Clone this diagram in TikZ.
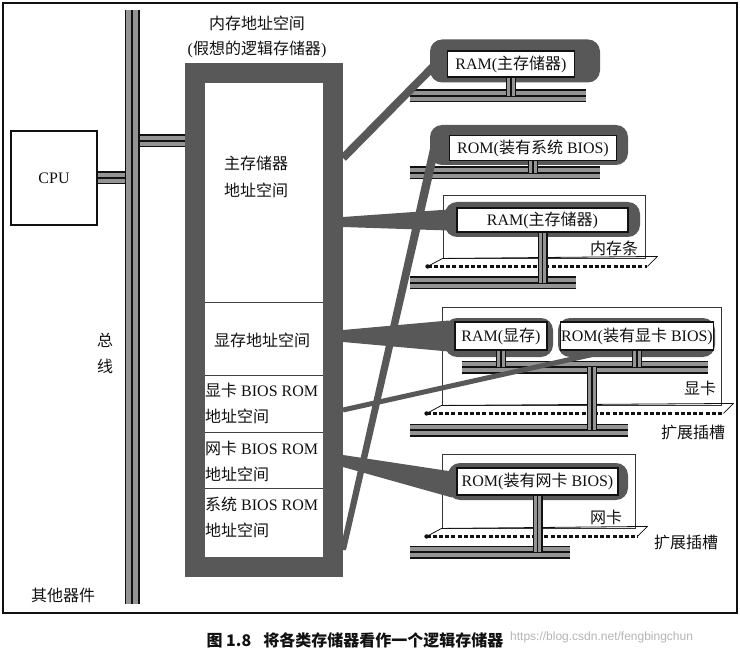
\documentclass[tikz,border=0pt]{standalone}
\usepackage{fontspec}
\setmainfont{Liberation Serif}
\newfontfamily\cjk{Noto Sans CJK SC}
\newfontfamily\wmfont{Liberation Sans}
\newcommand\zh[1]{{\cjk #1}}
\usetikzlibrary{calc}
\definecolor{mm-ink}{HTML}{111111}
\definecolor{mm-frame}{HTML}{585858}
\definecolor{mm-lane}{HTML}{949494}
\definecolor{mm-mark}{HTML}{B4B4B4}

\begin{document}
\begin{tikzpicture}[
  x=1pt,y=-1pt,font=\fontsize{16}{26}\selectfont,text=mm-ink,
  mainbus/.style={draw=mm-ink,line width=15pt,
                  postaction={draw=mm-lane,line width=12pt},
                  postaction={draw=mm-ink,line width=1.4pt}},
  bus/.style={draw=mm-ink,line width=13pt,
              postaction={draw=mm-lane,line width=10pt},
              postaction={draw=mm-ink,line width=1.3pt}},
  stem/.style={draw=mm-ink,line width=10pt,
               postaction={draw=mm-lane,line width=7.4pt},
               postaction={draw=mm-ink,line width=1.2pt}},
  memblk/.style={draw=mm-frame,line width=20pt,fill=white,inner sep=0pt,
                 minimum width=138,minimum height=494},
  sec/.style={anchor=west,align=left,inner sep=1pt},
  card/.style={draw=mm-ink!85,line width=0.9pt,inner sep=0pt},
  blob/.style={fill=mm-frame,rounded corners=12pt,inner sep=0pt},
  chip/.style={draw=mm-ink,line width=1.5pt,fill=white,inner sep=1.5pt,
               minimum height=26},
  link/.style={fill=mm-frame},
  linkline/.style={draw=mm-frame,line width=6pt},
  slotedge/.style={draw=mm-ink,line width=0.8pt,line join=round},
  slotdash/.style={draw=mm-ink,line width=2.6pt,dash pattern=on 4pt off 2.2pt}
]
\useasboundingbox (0,0) rectangle (740,658);

% outer frame
\draw[mm-ink,line width=1.8pt] (3,3) rectangle (737,613);

% system bus and CPU
\coordinate (bustop) at (132,10);
\coordinate (busbot) at (132,604);
\node[draw=mm-ink,line width=1.2pt,minimum width=86,minimum height=94] (cpu) at (54,178) {CPU};
\coordinate (memport) at (192,141);
\draw[bus] (cpu.east) -- (cpu.east -| bustop);
\draw[bus] (memport -| bustop) -- (memport);
\draw[mainbus] (bustop) -- (busbot);
\node[align=center] (buslbl) at (105,353) {\zh{总}\\\zh{线}};
\node (other) at (63,595) {\zh{其他器件}};

% logical memory
\node[align=center,font=\fontsize{16}{25}\selectfont] (memttl) at (257,37)
     {\zh{内存地址空间}\\(\zh{假想的逻辑存储器})};
\node[memblk] (mem) at (264,320) {};
\foreach \y in {302,375,432,488}
  \draw[mm-ink!80,line width=0.8pt] (205,\y) -- (323,\y);
\node[align=center,font=\fontsize{16}{27}\selectfont] (secmain) at (256,177) {\zh{主存储器}\\\zh{地址空间}};
\node (secvram) at (262,340) {\zh{显存地址空间}};
\node[sec] (secvbios) at (204,403) {\zh{显卡} BIOS ROM\\\zh{地址空间}};
\node[sec] (secnbios) at (204,461) {\zh{网卡} BIOS ROM\\\zh{地址空间}};
\node[sec] (secsbios) at (204,517) {\zh{系统} BIOS ROM\\\zh{地址空间}};

% boards
\node[card,minimum width=202,minimum height=63] (dimm)  at (544,226.5) {};
\node[card,minimum width=279,minimum height=98] (vcard) at (581.5,356) {};
\node[card,minimum width=193,minimum height=74] (ncard) at (538.5,491) {};
\node (dimmlbl)  at (614,248) {\zh{内存条}};
\node (vcardlbl) at (700,388) {\zh{显卡}};
\node (ncardlbl) at (606,517) {\zh{网卡}};
\node (slot1lbl) at (693,432) {\zh{扩展插槽}};
\node (slot2lbl) at (686,542) {\zh{扩展插槽}};

% slots
\foreach \c in {dimm,vcard,ncard} {
  \draw[slotedge] ($(\c.south west)+(-15,8)$) -- (\c.south west)
       -- ($(\c.south east)+(12,-2)$) -- ($(\c.south east)+(2,8)$);
  \draw[slotdash] ($(\c.south west)+(-15,8)$) -- ($(\c.south east)+(2,8)$);
  \fill[mm-ink] ($(\c.south west)+(-15,8)$) circle (2.2);
}

% local buses
\coordinate (b1w) at (410,96);  \coordinate (b1e) at (586,96);
\coordinate (b2w) at (410,173); \coordinate (b2e) at (600,173);
\coordinate (b3w) at (410,283); \coordinate (b3e) at (576,283);
\coordinate (vbw) at (462,367); \coordinate (vbe) at (708,367);
\coordinate (x1w) at (410,430); \coordinate (x1e) at (628,430);
\coordinate (x2w) at (410,552); \coordinate (x2e) at (570,552);
\draw[bus] (b1w) -- (b1e);
\draw[bus] (b2w) -- (b2e);
\draw[bus] (b3w) -- (b3e);
\draw[bus] (vbw) -- (vbe);
\draw[bus] (x1w) -- (x1e);
\draw[bus] (x2w) -- (x2e);

% blobs
\node[blob,minimum width=170,minimum height=43] (ramtopb)  at (515,61) {};
\node[blob,minimum width=198,minimum height=40] (romsysb)  at (529,145) {};
\node[blob,minimum width=195,minimum height=35] (ramdimmb) at (542.5,219.5) {};
\node[blob,minimum width=108,minimum height=39] (ramvb)    at (499,337.5) {};
\node[blob,minimum width=157,minimum height=39] (romvb)    at (636.5,337.5) {};
\node[blob,minimum width=180,minimum height=37] (romnb)    at (538,481.5) {};

% links from address ranges to devices
\draw[linkline,line width=8pt] (mem.east |- 0,158) -- ($(ramtopb.west)+(5,4)$);
\fill[link] (mem.east |- 0,217) -- ($(ramdimmb.west)+(4,-10)$)
            -- ($(ramdimmb.west)+(4,11)$) -- (mem.east |- 0,227) -- cycle;
\fill[link] ($(mem.east |- 0,550)+(-3,0)$) -- ($(romsysb.west)+(1,0)$)
            -- ($(romsysb.west)+(10,0)$) -- ($(mem.east |- 0,550)+(3,0)$) -- cycle;
\fill[link] (mem.east |- 0,330) -- ($(ramvb.west)+(4,-17)$)
            -- ($(ramvb.west)+(4,14)$) -- (mem.east |- 0,342) -- cycle;
\draw[linkline,line width=5pt] (mem.east |- 0,410) -- ($(romvb.south west)+(36,-3)$);
\fill[link] (mem.east |- 0,455) -- ($(romnb.west)+(4,-10)$)
            -- ($(romnb.west)+(4,16)$) -- (mem.east |- 0,467) -- cycle;

% chips
\node[chip,minimum width=127] (ramtop)  at (511,64)    {RAM(\zh{主存储器})};
\node[chip,minimum width=167,minimum height=25] (romsys) at (533,148) {ROM(\zh{装有系统} BIOS)};
\node[chip,minimum width=171,minimum height=24] (ramdimm) at (542.5,220) {RAM(\zh{主存储器})};
\node[chip,minimum width=92,minimum height=28]  (ramv)  at (501,336)   {RAM(\zh{显存})};
\node[chip,minimum width=150,minimum height=28,inner sep=0.5pt] (romv) at (637,336) {ROM(\zh{装有显卡} BIOS)};
\node[chip,minimum width=161,minimum height=27] (romn)  at (537.5,481.5) {ROM(\zh{装有网卡} BIOS)};

% stems to buses
\coordinate (vtap) at (592,367);
\draw[stem] (ramtop.south)  -- (ramtop.south |- b1w);
\draw[stem] (romsys.south)  -- (romsys.south |- b2w);
\draw[stem] (ramdimm.south) -- (ramdimm.south |- b3w);
\draw[stem] (ramv.south)    -- (ramv.south |- vbw);
\draw[stem] (romv.south)    -- (romv.south |- vbw);
\draw[stem] (vtap)          -- (vtap |- x1w);
\draw[stem] (romn.south)    -- (romn.south |- x2w);

% caption
\node[anchor=west,font=\fontsize{16}{18}\cjk\bfseries] (cap) at (203,640)
     {图 1.8\hspace{12pt}将各类存储器看作一个逻辑存储器};
\node[anchor=west,font=\fontsize{12}{14}\wmfont,text=mm-mark,inner sep=0pt] (wm) at (510,637)
     {https://blog.csdn.net/fengbingchun};

\end{tikzpicture}
\end{document}
